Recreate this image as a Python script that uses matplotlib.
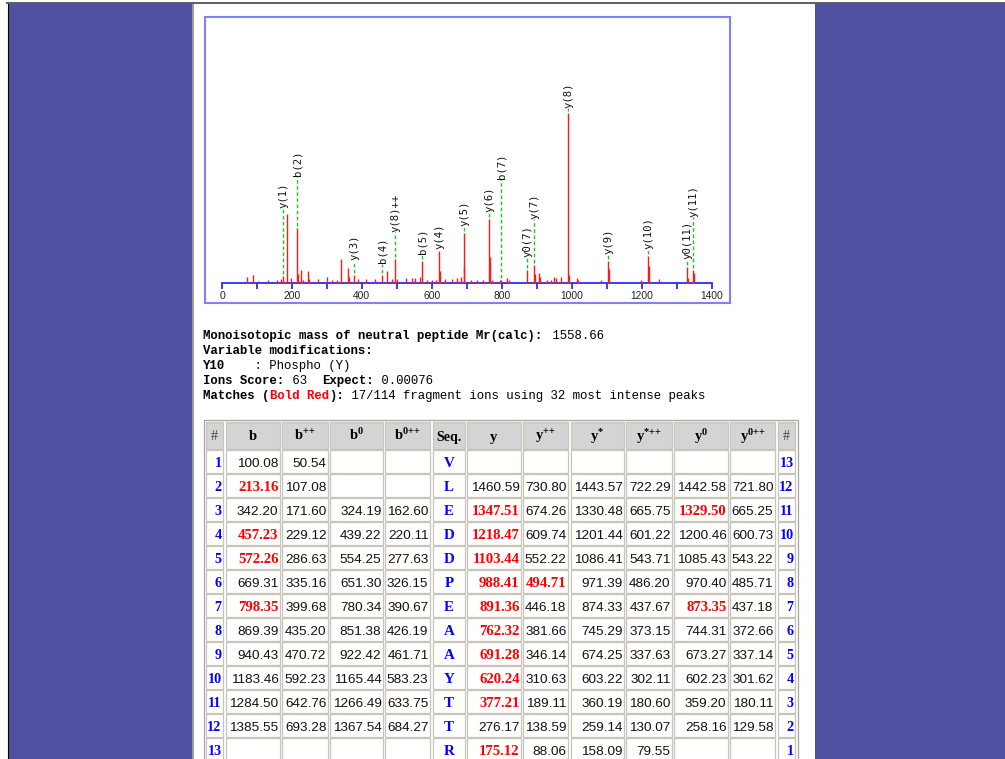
import matplotlib
matplotlib.use('Agg')
import matplotlib.pyplot as plt
from matplotlib.patches import Rectangle
from matplotlib.ticker import MultipleLocator

W, H = 1005, 759
plt.rcParams['mathtext.fontset'] = 'custom'
plt.rcParams['mathtext.bf'] = 'Liberation Serif:bold'
plt.rcParams['mathtext.rm'] = 'Liberation Serif'
plt.rcParams['mathtext.it'] = 'Liberation Serif:italic'

# ---------------- data ----------------
match_labels = ['y(1)', 'b(2)', 'y(3)', 'b(4)', 'y(8)++', 'b(5)', 'y(4)', 'y(5)', 'y(6)',
                'b(7)', 'y0(7)', 'y(7)', 'y(8)', 'y(9)', 'y(10)', 'y0(11)', 'y(11)']
match_mz = [175.12, 213.16, 377.21, 457.23, 494.71, 572.26, 620.24, 691.28, 762.32,
            798.35, 873.35, 891.36, 988.41, 1103.44, 1218.47, 1329.50, 1347.51]
match_int = [4.0, 32.0, 4.3, 4.5, 13.8, 12.9, 18.5, 29.0, 37.4,
             1.5, 7.6, 10.3, 100.0, 12.9, 15.8, 9.2, 7.2]
label_level = [44, 63, 13, 11.3, 30, 16.6, 20, 33, 41.5,
               61, 15, 37.6, 103, 17, 19.5, 14, 38.6]

other_mz = [71.8, 87.6, 104.3, 130.8, 158.4, 168.2, 186.9, 198.7, 216.4, 227.3, 232.2,
            245.0, 247.9, 274.5, 299.1, 315.8, 328.6, 341.4, 360.1, 363.0, 389.6, 413.2,
            438.8, 473.2, 486.0, 501.7, 525.3, 542.1, 551.9, 566.7, 586.3, 601.1, 612.9,
            622.5, 638.5, 658.2, 673.0, 684.7, 693.5, 711.3, 730.0, 745.7, 765.3, 771.3,
            795.9, 814.6, 821.5, 894.3, 906.1, 909.0, 930.7, 940.5, 950.3, 955.3, 969.0,
            992.7, 1016.3, 1019.2, 1084.2, 1106.0, 1199.3, 1221.0, 1248.5, 1332.0, 1351.0]
other_int = [3.1, 4.3, 1.0, 1.2, 1.6, 1.9, 40.2, 2.5, 4.9, 7.6, 1.6,
             6.6, 1.9, 2.1, 3.1, 1.6, 1.6, 13.8, 8.4, 3.5, 1.9, 1.9,
             1.9, 6.6, 1.9, 1.9, 2.5, 2.5, 2.5, 3.5, 1.6, 1.2, 1.6,
             6.6, 1.9, 1.9, 2.5, 3.1, 9.7, 1.2, 1.6, 1.6, 15.0, 1.6,
             1.6, 2.5, 1.6, 4.9, 5.5, 3.5, 1.2, 1.6, 3.5, 2.5, 3.5,
             4.5, 2.5, 1.6, 1.6, 8.2, 1.2, 9.7, 1.9, 2.5, 5.5]

x_ticks_major = [0, 200, 400, 600, 800, 1000, 1200, 1400]

info_mr = '1558.66'
info_score = '63'
info_expect = '0.00076'
info_matches = '17/114 fragment ions using 32 most intense peaks'

seq = ['V', 'L', 'E', 'D', 'D', 'P', 'E', 'A', 'A', 'Y', 'T', 'T', 'R']
b_ions = ['100.08', '213.16', '342.20', '457.23', '572.26', '669.31', '798.35', '869.39',
          '940.43', '1183.46', '1284.50', '1385.55', '']
b2_ions = ['50.54', '107.08', '171.60', '229.12', '286.63', '335.16', '399.68', '435.20',
           '470.72', '592.23', '642.76', '693.28', '']
b0_ions = ['', '', '324.19', '439.22', '554.25', '651.30', '780.34', '851.38',
           '922.42', '1165.44', '1266.49', '1367.54', '']
b02_ions = ['', '', '162.60', '220.11', '277.63', '326.15', '390.67', '426.19',
            '461.71', '583.23', '633.75', '684.27', '']
y_ions = ['', '1460.59', '1347.51', '1218.47', '1103.44', '988.41', '891.36', '762.32',
          '691.28', '620.24', '377.21', '276.17', '175.12']
y2_ions = ['', '730.80', '674.26', '609.74', '552.22', '494.71', '446.18', '381.66',
           '346.14', '310.63', '189.11', '138.59', '88.06']
ys_ions = ['', '1443.57', '1330.48', '1201.44', '1086.41', '971.39', '874.33', '745.29',
           '674.25', '603.22', '360.19', '259.14', '158.09']
ys2_ions = ['', '722.29', '665.75', '601.22', '543.71', '486.20', '437.67', '373.15',
            '337.63', '302.11', '180.60', '130.07', '79.55']
y0_ions = ['', '1442.58', '1329.50', '1200.46', '1085.43', '970.40', '873.35', '744.31',
           '673.27', '602.23', '359.20', '258.16', '']
y02_ions = ['', '721.80', '665.25', '600.73', '543.22', '485.71', '437.18', '372.66',
            '337.14', '301.62', '180.11', '129.58', '']

# ---------------- style ----------------
PURPLE = '#4F51A0'
RED = '#FF1A1A'
GREEN = '#22C422'
BLUE = '#0000FF'

fig = plt.figure(figsize=(W / 100, H / 100), dpi=100)
bg = fig.add_axes([0, 0, 1, 1])
bg.axis('off')
bg.set_autoscale_on(False)
bg.set_xlim(0, W)
bg.set_ylim(H, 0)

bg.add_patch(Rectangle((0, 0), W, H, facecolor='white', edgecolor='none', zorder=0))
bg.add_patch(Rectangle((8, 3), 184, H, facecolor=PURPLE, edgecolor='none', zorder=1))
bg.add_patch(Rectangle((815, 3), W - 815, H, facecolor=PURPLE, edgecolor='none', zorder=1))
bg.plot([193, 193], [3, H], color='#909090', lw=1.3, zorder=2)
bg.plot([7.5, 7.5], [2, H], color='black', lw=0.8, zorder=2)
bg.plot([7, W], [2.5, 2.5], color='#5E5E5E', lw=1.4, zorder=2)

# spectrum frame
bg.add_patch(Rectangle((204.5, 16.5), 525, 286, facecolor='white', edgecolor='#8080FF',
                       lw=1.5, zorder=2))

# ---------------- spectrum ----------------
BOX_L, BOX_R, BOX_T, BOX_B = 204, 730, 16, 303
PX0, PX1400 = 222.0, 711.5
PY0, PY100 = 282.5, 112.7
sx = (PX1400 - PX0) / 1400.0
sy = (PY0 - PY100) / 100.0

ax = fig.add_axes([BOX_L / W, 1 - BOX_B / H, (BOX_R - BOX_L) / W, (BOX_B - BOX_T) / H])
ax.set_facecolor('none')
ax.set_zorder(3)
ax.set_xlim(-(PX0 - BOX_L) / sx, 1400 + (BOX_R - PX1400) / sx)
ax.set_ylim(-(BOX_B - PY0) / sy, (PY0 - BOX_T) / sy)

ax.vlines(other_mz, 0, other_int, colors=RED, lw=1.0, zorder=3)
ax.vlines(match_mz, 0, match_int, colors=RED, lw=1.0, zorder=3)

gap = 1.2
for lab, mz, it, lev in zip(match_labels, match_mz, match_int, label_level):
    if lev - gap > it + gap:
        ax.vlines(mz, it + gap, lev - 0.3, colors=GREEN, lw=1.0,
                  linestyles=(0, (2.6, 1.8)), zorder=2)
    ax.text(mz + 1.5, lev, lab, rotation=90, ha='center', va='bottom',
            fontsize=7.7, family='DejaVu Sans Mono', color='#111111')

for s in ['top', 'left', 'right']:
    ax.spines[s].set_visible(False)
ax.spines['bottom'].set_position(('data', 0))
ax.spines['bottom'].set_bounds(0, 1400)
ax.spines['bottom'].set_color('#2B2BFF')
ax.spines['bottom'].set_linewidth(1.3)
ax.set_yticks([])
ax.set_xticks(x_ticks_major)
ax.set_xticklabels([str(v) for v in x_ticks_major])
ax.xaxis.set_minor_locator(MultipleLocator(100))
ax.tick_params(axis='x', which='both', direction='out', color='#2B2BFF', width=1.3,
               labelcolor='#222222', pad=2)
ax.tick_params(axis='x', which='major', length=4)
ax.tick_params(axis='x', which='minor', length=4)
for t in ax.get_xticklabels():
    t.set_family('Liberation Sans')
    t.set_fontsize(7.4)

# ---------------- info text ----------------
MONO = 'Liberation Mono'
FS = 8.92
CW = 0.6 * FS * 100 / 72.0
X0 = 203


def seg(col, y, s, bold=False, color='black'):
    bg.text(X0 + col * CW, y, s, family=MONO, fontsize=FS,
            fontweight='bold' if bold else 'normal', color=color,
            ha='left', va='baseline', zorder=5)
    return col + len(s)


bl = [338.6, 353.6, 368.8, 384.2, 399.4]
c = seg(0, bl[0], 'Monoisotopic mass of neutral peptide Mr(calc):', True)
seg(c, bl[0], ' ' + info_mr)
seg(0, bl[1], 'Variable modifications:', True)
c = seg(0, bl[2], 'Y10', True)
seg(c, bl[2], '    : Phospho (Y)')
c = seg(0, bl[3], 'Ions Score:', True)
c = seg(c, bl[3], ' ' + info_score + '  ')
c = seg(c, bl[3], 'Expect:', True)
seg(c, bl[3], ' ' + info_expect)
c = seg(0, bl[4], 'Matches (', True)
c = seg(c, bl[4], 'Bold Red', True, '#FF0000')
c = seg(c, bl[4], '):', True)
seg(c, bl[4], ' ' + info_matches)

# ---------------- table ----------------
col_keys = ['#', 'b', 'b++', 'b0', 'b0++', 'Seq', 'y', 'y++', 'y*', 'y*++', 'y0', 'y0++', '#r']
PP = r'{+}{+}'
headers = ['#', r'$\mathbf{b}$', r'$\mathbf{b^{' + PP + '}}$', r'$\mathbf{b^{0}}$',
           r'$\mathbf{b^{0' + PP + '}}$', 'Seq.', r'$\mathbf{y}$',
           r'$\mathbf{y^{' + PP + '}}$', r'$\mathbf{y^{*}}$',
           r'$\mathbf{y^{*' + PP + '}}$', r'$\mathbf{y^{0}}$',
           r'$\mathbf{y^{0' + PP + '}}$', '#']
col_data = {'b': b_ions, 'b++': b2_ions, 'b0': b0_ions, 'b0++': b02_ions,
            'y': y_ions, 'y++': y2_ions, 'y*': ys_ions, 'y*++': ys2_ions,
            'y0': y0_ions, 'y0++': y02_ions}
n_res = len(seq)

# which cells are matches (derived from labels)
red_cells = set()
for lab in match_labels:
    pre, rest = lab.split('(')
    num, suf = rest.split(')')
    key = pre + suf
    n = int(num)
    row = n - 1 if pre.startswith('b') else n_res - n
    red_cells.add((key, row))

col_edges = [(206, 223), (226, 280), (282, 328), (330, 383), (385, 430), (433, 465),
             (467, 521), (523, 568), (571, 624), (626, 672), (674, 728), (730, 775),
             (778, 795)]
HDR_T, HDR_B = 421.5, 448.5
ROW0, PITCH, RH = 449.5, 24.0, 23.0
CELL_EDGE = '#C8C4BA'

bg.add_patch(Rectangle((204, 419.5), 593.5, 360, facecolor='white', edgecolor='#A9A59C',
                       lw=0.9, zorder=3))

for (x0, x1), key, hdr in zip(col_edges, col_keys, headers):
    bg.add_patch(Rectangle((x0, HDR_T), x1 - x0, HDR_B - HDR_T, facecolor='#D4D4D4',
                           edgecolor=CELL_EDGE, lw=0.9, zorder=4))
    if hdr == '#':
        bg.text((x0 + x1) / 2, 440.5, '#', family='Liberation Serif', fontsize=10,
                color='#444444', ha='center', va='baseline', zorder=5)
    elif hdr == 'Seq.':
        bg.text((x0 + x1) / 2, 440.5, 'Seq.', family='Liberation Serif', fontsize=10,
                fontweight='bold', ha='center', va='baseline', zorder=5)
    else:
        bg.text((x0 + x1) / 2, 440.5, hdr, fontsize=10.5, ha='center', va='baseline',
                zorder=5)

for r in range(n_res):
    top = ROW0 + r * PITCH
    base = top + 17.3
    for (x0, x1), key in zip(col_edges, col_keys):
        bg.add_patch(Rectangle((x0, top), x1 - x0, RH, facecolor='white',
                               edgecolor=CELL_EDGE, lw=0.9, zorder=4))
        if key == '#':
            bg.text(x1 - 1.5, base, str(r + 1), family='Liberation Serif', fontsize=10.2,
                    fontweight='bold', color=BLUE, ha='right', va='baseline', zorder=5)
        elif key == '#r':
            bg.text(x1 - 1.5, base, str(n_res - r), family='Liberation Serif', fontsize=10.2,
                    fontweight='bold', color=BLUE, ha='right', va='baseline', zorder=5)
        elif key == 'Seq':
            bg.text((x0 + x1) / 2, base, seq[r], family='Liberation Serif', fontsize=10.8,
                    fontweight='bold', color=BLUE, ha='center', va='baseline', zorder=5)
        else:
            v = col_data[key][r]
            if not v:
                continue
            if (key, r) in red_cells:
                bg.text(x1 - 1.5, base, v, family='Liberation Serif', fontsize=10.6,
                        fontweight='bold', color='#FF0000', ha='right', va='baseline',
                        zorder=5)
            else:
                bg.text(x1 - 1.5, base, v, family='Liberation Sans', fontsize=9.7,
                        color='#111111', ha='right', va='baseline', zorder=5)

fig.savefig('out.png', dpi=100)
